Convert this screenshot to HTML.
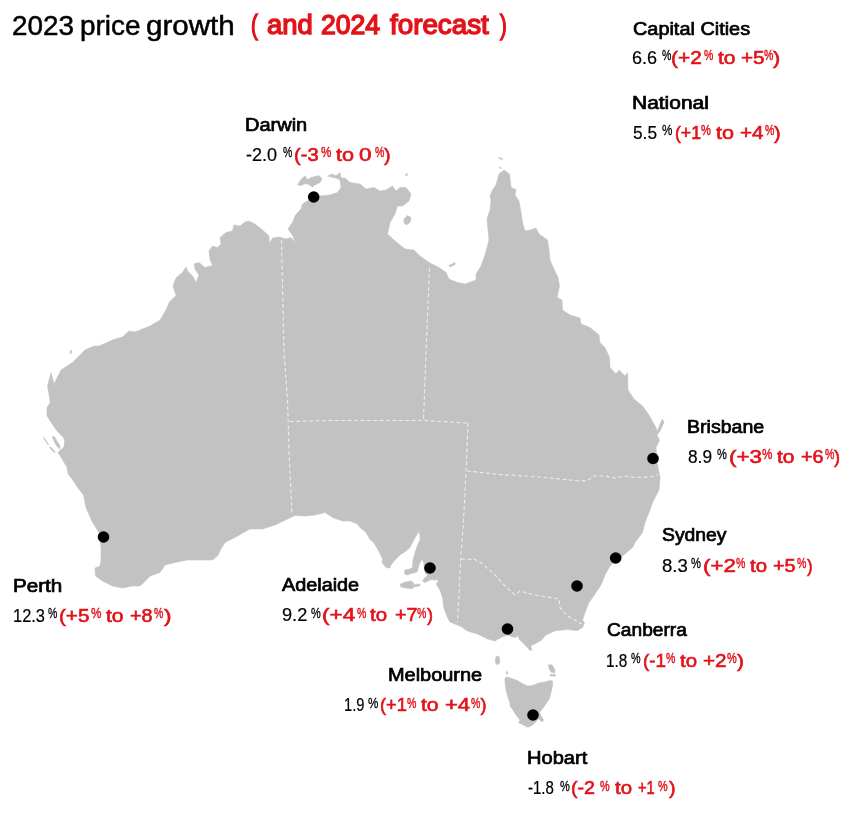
<!DOCTYPE html>
<html><head><meta charset="utf-8">
<style>
html,body{margin:0;padding:0;background:#fff;}
body{width:849px;height:814px;position:relative;overflow:hidden;font-family:"Liberation Sans",sans-serif;color:#000;}
#map{position:absolute;left:0;top:0;}
.t{position:absolute;white-space:nowrap;line-height:20px;height:20px;transform-origin:0 0;}
.title{font-size:27px;line-height:30px;height:30px;-webkit-text-stroke:0.5px #000;}
.n{font-size:18px;-webkit-text-stroke:0.7px #000;}
.k{font-size:18px;-webkit-text-stroke:0.2px #000;}
.r{font-size:18px;color:#e2131a;-webkit-text-stroke:0.62px #e2131a;}
.ks{font-size:14px;-webkit-text-stroke:0.3px #000;}
.rs{font-size:14px;color:#e2131a;-webkit-text-stroke:0.45px #e2131a;}
.tr{color:#e2131a;-webkit-text-stroke:1.45px #e2131a;}
</style></head><body>
<svg id="map" width="849" height="814" viewBox="0 0 849 814">
<g fill="#c2c2c2" stroke="#c2c2c2" stroke-width="0.6" stroke-linejoin="round">
<path id="main" d="M50,403 L50,400 47.5,386 51,372.5 54,384 61,370 72.5,362.5 85,350 94,346 99,346 112.5,340 122.5,337 129,331 135,332 150,326 160,320 166,310 169.5,302 176,295.5 173,286 176,278 182.5,272.5 186,267 187.5,271 192.5,276 196,282.5 199,275 195,269 194,264 199,262.5 205,267.5 212.5,265.5 210,259 209,251 212.5,246 217.5,247.5 221,244 220,237.5 226,232.5 232.5,231 234,225 240,226 245,222 249,221 255,224 262.5,230 269,236 269.5,244 272.5,238 279,237 286,239 291,237.5 295.5,243 292.5,235 288,229 292.5,222.5 295.5,215 301,209 302.5,204 309,200 314,198 320,196 330,195 337.5,192.5 341,187.5 340,180 336,178 331,177 327.5,176 332,174 336,176 340,172.5 341,178 345,178 350,182.5 360,184 366,189 374,187.5 380,191 386,190 392.5,186 396,191 400,187.5 406,187.5 411,194 409,201 402.5,206 397.5,206 395,214 390,222.5 387.5,234 395,241 405,249 414,250 420,256 430,263 439,267.5 446,272.5 449,279 457.5,282.5 465,284 476,280 476,274 481,266 485,255 489,240 488,230 487,219 490,210 491,200 490,196 492.5,190 496,185 499,174 504,170 509.5,174 511,187.5 516,189.5 515,195 519,201 521,212.5 522.5,222.5 525,231 530,230 536,228 539,234 547.5,240 549,250 550,260 554,269 558,277.5 559.5,286 557,297.5 562,300 562.5,310 570,315 580,318 581,324 590,327.5 599,335 600,342.5 605,347.5 609.5,357.5 610,367.5 616,374 619,370 625,376 627.5,372.5 628,390 634,399 642.5,406 649,415 655,426 657.5,431 660,424 662.5,419 664,422.5 660,431 657,435 659.5,440 656,447.5 657,458 657.5,465 660,477.5 659,490 652.5,502.5 650,510 645,522.5 642.5,532.5 635,542.5 632.5,547.5 625,554 617,560 610,566 605,575 601,585 595,594 589,602.5 585,612.5 582.5,620 584.5,623 582.5,627.5 577.5,630.6 567.5,629.6 555,630.8 546,635 541,640.6 535,643.7 530.5,646 532,650 530,650.5 525,645 519.4,639.4 517.8,635.6 516.3,637 514,637.5 507.5,635 501,637.5 495,641 487.5,639 477.5,634 467.5,631 460,626 450,622 447.5,617.5 443.7,607.5 442.5,597.5 440,590 436,583.7 438,582.5 437.5,578.7 435,580.5 433.7,579.4 430,580 425,582.5 422.5,581 425,577.5 428,575 425.6,573.7 424.4,570 423.7,562.5 422,559.4 419.4,563.7 418,568.7 417,572 412.5,573 407.5,575 404.4,573.7 405,570 408.7,569.4 412.5,567.5 413,560 415.6,551 417.5,545 420,540 420,535 418,530.6 417.5,533.7 413.7,540 410,547.5 406,551 400,555 395,560 391,565 390,568 386,567.5 382,562.5 382.5,558.7 378.7,551 373.7,542.5 370,539.4 366,532.5 360,527.5 357.5,524 350,521 342.5,521 332.5,517.5 325,512.5 315,515 305,516 295,515.5 287.5,519 275,525 262.5,529 250,529 237.5,536 225,542.5 221,549 217.5,556 212.5,560 200,560 187.5,560 175,562.5 165,565 160,572.5 150,576 147.5,579 140,586 132.5,586 122.5,588 112.5,586 102.5,581 95.5,576 95,568 100,566 101,560 101,547.5 99,532.5 92.5,522.5 86,507.5 83.5,495 78.5,488.7 73.5,481 68,473.7 67,467.5 62,458.7 58,452.5 61,449.4 64,447 64.7,441 63.5,437.5 57,431 52,423.7 47,416 47,407.5 Z"/>
<!-- Tasmania -->
<path d="M505,678 L506.900,676.900 512.500,678.700 517.500,680.600 522.500,683.700 527.500,686 532.500,685.600 538.700,683 545,681.900 550,680.600 552.500,681 552.500,686 551,692.500 549.400,698.700 546,703.700 542.500,708.700 539.400,712.500 541,716 543.700,720 541.900,721.900 538.700,718.700 535,722.500 532.500,725 528.700,727 527,727 522.500,724.400 518.700,723 520,720 516,715 513,710 510,706 510,703 508,697.500 506,690 505,682.500 Z"/>
<!-- King, Flinders -->
<ellipse cx="497.600" cy="660.300" rx="2.200" ry="4.300"/>
<path d="M548,665 L552,664.700 555,670 554.400,673 551,672 549.400,669.400 Z"/><path d="M550.300,674.400 L555.600,674.400 555.600,676 550.300,676 Z"/><path d="M506.200,671.800 L507.600,671.800 507.600,674 506.200,674 Z"/>
<!-- Kangaroo -->
<path d="M400,584.400 L403.700,582.500 410,581 413,582 413.700,584.400 420,584.200 420,585.800 413.700,587 412,588.700 406,588 401,587 Z"/>
<!-- Melville -->
<path d="M297.500,185 L301,179.400 305,176 307.500,179.500 311,177.500 318.700,175.600 322,178.700 320,182.500 315,185 312.500,187 308.700,184.400 305,183.700 301,185.600 Z"/>
<!-- Groote -->
<path d="M404,219 L407.5,215.5 411,217.5 410,222.5 406,225 404,222.5 Z"/>
<path d="M405,175 L407.5,173.5 407,176 Z"/>
<path d="M449,265.5 L455,262.5 455,264.5 450,267 Z"/>
<path d="M498,157.5 L502.500,158.500 502,160 Z"/>
<path d="M499.500,167 L501.500,168 500.500,169 Z"/>
<!-- Shark Bay -->
<path d="M52,436.500 L54.500,437 60,446 59.500,449 56,445 Z"/>
<path d="M43.500,437.500 L48.500,445" fill="none" stroke-width="1.300"/>
<path d="M49.700,447 L55,452.500" fill="none" stroke-width="1.600"/>
<path d="M70,351.500 L71.500,350 71.500,353 70.500,354 Z"/>
</g>
<g fill="none" stroke="#ececec" stroke-width="1.150" stroke-dasharray="3.800 2.600">
<path d="M281.500,240 L284,353 287.500,400 289,450 292,515"/>
<path d="M429.500,268 L426,352 423.500,420"/>
<path d="M290,421.500 L330,420.500 423.500,420.500 467.500,423"/>
<path d="M468,423 L466,471 463.500,522.500 460.800,558 457.500,622"/>
<path d="M467,471 L500,474.500 525,476 550,478 580,481 587.500,480.500 594,476 605,476 615,478 625,476 635,477.500 650,477 658,475"/>
<path d="M461,559 L475,559.500 482.500,564 495,575 505,586 515,595 520,591 535,595 550,597.500 559,599 560,607.500 567.500,616 582,624"/>
</g>
<g fill="#000">
<circle cx="313.700" cy="197" r="5.800"/>
<circle cx="653" cy="458.500" r="5.800"/>
<circle cx="615.700" cy="558" r="5.800"/>
<circle cx="577" cy="586" r="5.800"/>
<circle cx="507.500" cy="629" r="5.800"/>
<circle cx="533" cy="715" r="5.800"/>
<circle cx="430" cy="568" r="5.800"/>
<circle cx="103.500" cy="537" r="5.800"/>
</g>
</svg>
<div class="t title" style="left:11.67px;top:10.64px;transform:scaleX(1.031)">2023</div>
<div class="t title" style="left:79.96px;top:10.64px;transform:scaleX(1.035)">price</div>
<div class="t title" style="left:145.91px;top:10.64px;transform:scaleX(1.095)">growth</div>
<div class="t title tr" style="left:251.25px;top:10.24px;transform:scaleX(0.750)">(</div>
<div class="t title tr" style="left:267.00px;top:10.24px;transform:scaleX(1.014)">and</div>
<div class="t title tr" style="left:321.00px;top:10.24px;transform:scaleX(0.983)">2024</div>
<div class="t title tr" style="left:389.93px;top:10.24px;transform:scaleX(1.029)">forecast</div>
<div class="t title tr" style="left:499.75px;top:10.24px;transform:scaleX(0.750)">)</div>
<div class="t n" style="left:633.00px;top:18.76px;transform:scaleX(1.104)">Capital Cities</div>
<div class="t k" style="left:632.00px;top:47.76px;transform:scaleX(1.000)">6.6</div>
<div class="t ks" style="left:662.00px;top:45.35px;transform:scaleX(0.750)">%</div>
<div class="t r" style="left:670.84px;top:47.76px;transform:scaleX(1.160)">(+2</div>
<div class="t rs" style="left:704.00px;top:45.35px;transform:scaleX(0.750)">%</div>
<div class="t r" style="left:717.50px;top:47.76px;transform:scaleX(1.167)">to</div>
<div class="t r" style="left:741.00px;top:47.76px;transform:scaleX(1.150)">+5</div>
<div class="t rs" style="left:764.00px;top:45.35px;transform:scaleX(0.750)">%</div>
<div class="t r" style="left:773.00px;top:47.76px;transform:scaleX(1.200)">)</div>
<div class="t n" style="left:631.84px;top:92.76px;transform:scaleX(1.164)">National</div>
<div class="t k" style="left:633.00px;top:122.76px;transform:scaleX(0.960)">5.5</div>
<div class="t ks" style="left:662.00px;top:120.35px;transform:scaleX(0.833)">%</div>
<div class="t r" style="left:674.52px;top:122.76px;transform:scaleX(0.980)">(+1</div>
<div class="t rs" style="left:701.00px;top:120.35px;transform:scaleX(0.792)">%</div>
<div class="t r" style="left:716.00px;top:122.76px;transform:scaleX(1.200)">to</div>
<div class="t r" style="left:740.00px;top:122.76px;transform:scaleX(1.150)">+4</div>
<div class="t rs" style="left:764.50px;top:120.35px;transform:scaleX(0.750)">%</div>
<div class="t r" style="left:774.00px;top:122.76px;transform:scaleX(1.100)">)</div>
<div class="t n" style="left:244.89px;top:114.76px;transform:scaleX(1.111)">Darwin</div>
<div class="t k" style="left:246.00px;top:144.76px;transform:scaleX(1.000)">-2.0</div>
<div class="t ks" style="left:282.50px;top:142.35px;transform:scaleX(0.750)">%</div>
<div class="t r" style="left:294.38px;top:144.76px;transform:scaleX(1.119)">(-3</div>
<div class="t rs" style="left:321.00px;top:142.35px;transform:scaleX(0.833)">%</div>
<div class="t r" style="left:336.00px;top:144.76px;transform:scaleX(1.200)">to</div>
<div class="t r" style="left:359.00px;top:144.76px;transform:scaleX(1.250)">0</div>
<div class="t rs" style="left:374.50px;top:142.35px;transform:scaleX(0.750)">%</div>
<div class="t r" style="left:384.00px;top:144.76px;transform:scaleX(1.100)">)</div>
<div class="t n" style="left:686.91px;top:416.76px;transform:scaleX(1.086)">Brisbane</div>
<div class="t k" style="left:688.00px;top:446.76px;transform:scaleX(0.960)">8.9</div>
<div class="t ks" style="left:717.00px;top:444.35px;transform:scaleX(0.792)">%</div>
<div class="t r" style="left:728.76px;top:446.76px;transform:scaleX(1.240)">(+3</div>
<div class="t rs" style="left:762.00px;top:444.35px;transform:scaleX(0.833)">%</div>
<div class="t r" style="left:777.00px;top:446.76px;transform:scaleX(1.167)">to</div>
<div class="t r" style="left:801.00px;top:446.76px;transform:scaleX(1.100)">+6</div>
<div class="t rs" style="left:824.50px;top:444.35px;transform:scaleX(0.750)">%</div>
<div class="t r" style="left:834.00px;top:446.76px;transform:scaleX(1.000)">)</div>
<div class="t n" style="left:661.60px;top:525.16px;transform:scaleX(1.073)">Sydney</div>
<div class="t k" style="left:661.60px;top:555.76px;transform:scaleX(1.032)">8.3</div>
<div class="t ks" style="left:691.00px;top:553.35px;transform:scaleX(0.800)">%</div>
<div class="t r" style="left:702.76px;top:555.76px;transform:scaleX(1.240)">(+2</div>
<div class="t rs" style="left:735.80px;top:553.35px;transform:scaleX(0.750)">%</div>
<div class="t r" style="left:749.60px;top:555.76px;transform:scaleX(1.133)">to</div>
<div class="t r" style="left:773.00px;top:555.76px;transform:scaleX(1.100)">+5</div>
<div class="t rs" style="left:797.00px;top:553.35px;transform:scaleX(0.750)">%</div>
<div class="t r" style="left:807.00px;top:555.76px;transform:scaleX(0.940)">)</div>
<div class="t n" style="left:606.50px;top:619.76px;transform:scaleX(1.064)">Canberra</div>
<div class="t k" style="left:605.65px;top:650.76px;transform:scaleX(0.854)">1.8</div>
<div class="t ks" style="left:630.80px;top:648.35px;transform:scaleX(0.767)">%</div>
<div class="t r" style="left:642.95px;top:650.76px;transform:scaleX(1.048)">(-1</div>
<div class="t rs" style="left:666.00px;top:648.35px;transform:scaleX(0.750)">%</div>
<div class="t r" style="left:679.80px;top:650.76px;transform:scaleX(1.133)">to</div>
<div class="t r" style="left:703.00px;top:650.76px;transform:scaleX(1.150)">+2</div>
<div class="t rs" style="left:727.00px;top:648.35px;transform:scaleX(0.783)">%</div>
<div class="t r" style="left:737.00px;top:650.76px;transform:scaleX(1.160)">)</div>
<div class="t n" style="left:527.29px;top:748.06px;transform:scaleX(1.115)">Hobart</div>
<div class="t k" style="left:528.40px;top:777.96px;transform:scaleX(0.835)">-1.8</div>
<div class="t ks" style="left:559.50px;top:775.55px;transform:scaleX(0.792)">%</div>
<div class="t r" style="left:571.31px;top:777.96px;transform:scaleX(1.090)">(-2</div>
<div class="t rs" style="left:599.70px;top:775.55px;transform:scaleX(0.775)">%</div>
<div class="t r" style="left:615.00px;top:777.96px;transform:scaleX(1.133)">to</div>
<div class="t r" style="left:637.80px;top:777.96px;transform:scaleX(0.810)">+1</div>
<div class="t rs" style="left:658.40px;top:775.55px;transform:scaleX(0.775)">%</div>
<div class="t r" style="left:669.00px;top:777.96px;transform:scaleX(1.100)">)</div>
<div class="t n" style="left:387.69px;top:665.16px;transform:scaleX(1.106)">Melbourne</div>
<div class="t k" style="left:343.98px;top:695.36px;transform:scaleX(0.817)">1.9</div>
<div class="t ks" style="left:368.00px;top:692.95px;transform:scaleX(0.833)">%</div>
<div class="t r" style="left:379.98px;top:695.36px;transform:scaleX(1.016)">(+1</div>
<div class="t rs" style="left:407.00px;top:692.95px;transform:scaleX(0.750)">%</div>
<div class="t r" style="left:421.00px;top:695.36px;transform:scaleX(1.173)">to</div>
<div class="t r" style="left:445.00px;top:695.36px;transform:scaleX(1.220)">+4</div>
<div class="t rs" style="left:471.00px;top:692.95px;transform:scaleX(0.750)">%</div>
<div class="t r" style="left:480.50px;top:695.36px;transform:scaleX(1.000)">)</div>
<div class="t n" style="left:282.30px;top:574.76px;transform:scaleX(1.101)">Adelaide</div>
<div class="t k" style="left:282.30px;top:605.06px;transform:scaleX(1.008)">9.2</div>
<div class="t ks" style="left:311.00px;top:602.65px;transform:scaleX(0.783)">%</div>
<div class="t r" style="left:322.45px;top:605.06px;transform:scaleX(1.250)">(+4</div>
<div class="t rs" style="left:356.50px;top:602.65px;transform:scaleX(0.750)">%</div>
<div class="t r" style="left:370.30px;top:605.06px;transform:scaleX(1.133)">to</div>
<div class="t r" style="left:394.60px;top:605.06px;transform:scaleX(1.100)">+7</div>
<div class="t rs" style="left:416.60px;top:602.65px;transform:scaleX(0.750)">%</div>
<div class="t r" style="left:427.00px;top:605.06px;transform:scaleX(1.000)">)</div>
<div class="t n" style="left:12.85px;top:575.76px;transform:scaleX(1.146)">Perth</div>
<div class="t k" style="left:13.09px;top:605.76px;transform:scaleX(0.912)">12.3</div>
<div class="t ks" style="left:48.00px;top:603.35px;transform:scaleX(0.750)">%</div>
<div class="t r" style="left:58.86px;top:605.76px;transform:scaleX(1.144)">(+5</div>
<div class="t rs" style="left:91.00px;top:603.35px;transform:scaleX(0.833)">%</div>
<div class="t r" style="left:106.00px;top:605.76px;transform:scaleX(1.173)">to</div>
<div class="t r" style="left:130.00px;top:605.76px;transform:scaleX(1.100)">+8</div>
<div class="t rs" style="left:153.50px;top:603.35px;transform:scaleX(0.750)">%</div>
<div class="t r" style="left:163.50px;top:605.76px;transform:scaleX(1.250)">)</div>
</body></html>
